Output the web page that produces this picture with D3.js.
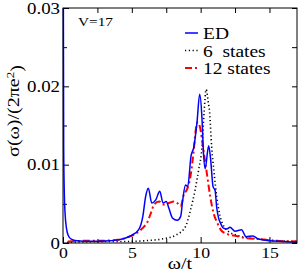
<!DOCTYPE html>
<html>
<head>
<meta charset="utf-8">
<script src="https://cdn.jsdelivr.net/npm/d3@7"></script>
<style>
  body { margin: 0; background: #fff; }
  text { font-family: "Liberation Serif", "Times New Roman", serif; fill: #000; }
</style>
</head>
<body>
<div id="chart"></div>
<script>
// exact diagonalisation spectrum (omega/t, sigma)
const edOmega = [0, 0.02, 0.05, 0.1, 0.15, 0.25, 0.4, 0.6, 1, 2, 3, 4, 4.5, 5, 5.5, 5.8, 6.0, 6.2, 6.45, 6.74, 7.03, 7.27, 7.5, 7.7, 7.95, 8.3, 8.55, 8.7, 8.9, 9.06, 9.3, 9.5, 9.74, 9.93, 10.1, 10.2, 10.33, 10.58, 10.72, 10.9, 11.05, 11.17, 11.3, 11.45, 11.65, 11.9, 12.13, 12.5, 12.97, 13.3, 13.8, 14.2, 15, 16, 17];
const edSigma = [0.06, 0.035, 0.012, 0.006, 0.0038, 0.0019, 0.0009, 0.0005, 0.0003, 0.00022, 0.00025, 0.0004, 0.0006, 0.001, 0.0017, 0.0034, 0.0059, 0.007, 0.0051, 0.0055, 0.0066, 0.0051, 0.0053, 0.0044, 0.0032, 0.0029, 0.0034, 0.0055, 0.0074, 0.0072, 0.0111, 0.0122, 0.0155, 0.019, 0.0158, 0.0117, 0.0095, 0.0124, 0.0108, 0.0072, 0.0067, 0.0045, 0.0032, 0.0025, 0.0019, 0.0018, 0.002, 0.0015, 0.0017, 0.0008, 0.0009, 0.0005, 0.0003, 0.0002, 0.0001];

// 6 states
const s6Omega = [0.3, 2, 4, 4.8, 6.0, 7.46, 8.2, 8.9, 9.26, 9.6, 9.86, 10.1, 10.25, 10.4, 10.55, 10.65, 10.8, 10.98, 11.17, 11.4, 11.7, 12.0, 12.6, 13.3, 14.3, 15.5, 17];
const s6Sigma = [0.0001, 0.00015, 0.0002, 0.0002, 0.0003, 0.0006, 0.001, 0.0021, 0.0042, 0.0068, 0.0094, 0.0123, 0.0167, 0.0196, 0.0180, 0.0167, 0.0123, 0.0089, 0.0059, 0.0035, 0.0021, 0.0015, 0.001, 0.0007, 0.0005, 0.0003, 0.0002];

// 12 states
const s12Omega = [0.35, 1, 2, 3, 4, 4.8, 5.3, 5.78, 6.14, 6.38, 6.62, 6.98, 7.34, 7.7, 8.06, 8.3, 8.55, 8.78, 9.0, 9.26, 9.5, 9.62, 9.78, 9.95, 10.2, 10.45, 10.7, 10.94, 11.2, 11.5, 12.0, 12.6, 13.3, 14.3, 15.25, 17];
const s12Sigma = [0.0002, 0.00025, 0.0003, 0.0003, 0.0004, 0.0008, 0.0012, 0.0019, 0.0027, 0.0038, 0.0049, 0.0053, 0.0049, 0.0051, 0.0053, 0.0051, 0.0047, 0.0062, 0.0068, 0.0085, 0.0119, 0.0141, 0.0154, 0.0148, 0.0119, 0.0089, 0.0059, 0.0038, 0.0026, 0.0016, 0.0011, 0.0009, 0.0006, 0.0005, 0.0003, 0.0002];

const xTicks = [0, 5, 10, 15];
const xMinor = [2.5, 7.5, 12.5];
const yTicks = [0, 0.01, 0.02, 0.03];
const yMinor = [0.005, 0.015, 0.025];

const legendNames = ["ED", "6  states", "12 states"];

const totalW = 300, totalH = 274;
const margin = { top: 8, right: 3, bottom: 31, left: 63 };
const width = totalW - margin.left - margin.right;
const height = totalH - margin.top - margin.bottom;
const sx = 1.18; // the original text is a little wide

const svg = d3.select("#chart")
  .append("svg")
  .attr("width", totalW)
  .attr("height", totalH)
  .append("g")
  .attr("transform", `translate(${margin.left}, ${margin.top})`);

const xScale = d3.scaleLinear().domain([0, 17]).range([0, width]);
const yScale = d3.scaleLinear().domain([0, 0.03]).range([height, 0]);

svg.append("clipPath").attr("id", "clip")
  .append("rect").attr("x", -1).attr("width", width + 1).attr("height", height);

// axes, ticks point inwards
function styleAxis(g) {
  g.select(".domain").remove();
  g.selectAll("line").attr("stroke", "#000");
}

svg.append("g")
  .attr("transform", `translate(0, ${height})`)
  .call(d3.axisBottom(xScale).tickValues(xTicks).tickSize(-6).tickPadding(4).tickFormat(d3.format("d")))
  .call(styleAxis)
  .selectAll("text")
  .style("font-size", "15px")
  .attr("transform", `scale(${sx},1)`);

svg.append("g")
  .attr("transform", `translate(0, ${height})`)
  .call(d3.axisBottom(xScale).tickValues(xMinor).tickSize(-4).tickFormat(""))
  .call(styleAxis);

svg.append("g")
  .call(d3.axisTop(xScale).tickValues(xTicks.concat(xMinor)).tickSize(-5).tickFormat(""))
  .call(styleAxis);

svg.append("g")
  .call(d3.axisLeft(yScale).tickValues(yTicks).tickSize(-6).tickPadding(3).tickFormat((d) => d === 0 ? "0" : d3.format(".2f")(d)))
  .call(styleAxis)
  .selectAll("text")
  .style("font-size", "16px")
  .attr("x", -3 / sx)
  .attr("transform", `scale(${sx},1)`);

svg.append("g")
  .call(d3.axisLeft(yScale).tickValues(yMinor).tickSize(-4).tickFormat(""))
  .call(styleAxis);

svg.append("g")
  .attr("transform", `translate(${width}, 0)`)
  .call(d3.axisRight(yScale).tickValues(yTicks.concat(yMinor)).tickSize(-5).tickFormat(""))
  .call(styleAxis);

// curves
const series = [
  { omega: s6Omega, sigma: s6Sigma, color: "#000", dash: "1.2,2.6", w: 1.6 },
  { omega: s12Omega, sigma: s12Sigma, color: "#ff0000", dash: "7,3,2,3", w: 2 },
  { omega: edOmega, sigma: edSigma, color: "#0000ff", dash: null, w: 1.5 }
];

const line = d3.line()
  .x((d) => xScale(d[0]))
  .y((d) => yScale(d[1]))
  .curve(d3.curveMonotoneX);

series.forEach((s) => {
  svg.append("path")
    .datum(s.omega.map((o, i) => [o, s.sigma[i]]))
    .attr("clip-path", "url(#clip)")
    .attr("fill", "none")
    .attr("stroke", s.color)
    .attr("stroke-width", s.w)
    .attr("stroke-dasharray", s.dash)
    .attr("d", line);
});

svg.append("rect")
  .attr("width", width)
  .attr("height", height)
  .attr("fill", "none")
  .attr("stroke", "#000")
  .attr("stroke-width", 1);

// legend
const legendStyles = [series[2], series[0], series[1]];
const legend = svg.append("g").attr("transform", `translate(${185 - margin.left}, ${33 - margin.top})`);
legendNames.forEach((name, i) => {
  const s = legendStyles[i];
  legend.append("line")
    .attr("x1", 0).attr("x2", 13)
    .attr("y1", i * 17.5).attr("y2", i * 17.5)
    .attr("stroke", s.color)
    .attr("stroke-width", s.w)
    .attr("stroke-dasharray", s.dash);
  legend.append("text")
    .attr("transform", `translate(18, ${i * 17.5 + 6}) scale(${sx},1)`)
    .style("font-size", "16.5px")
    .style("white-space", "pre")
    .attr("xml:space", "preserve")
    .text(name);
});

svg.append("text")
  .attr("transform", `translate(${78 - margin.left}, ${26 - margin.top}) scale(${sx},1)`)
  .style("font-size", "13px")
  .text("V=17");

// axis titles
svg.append("text")
  .attr("transform", `translate(${width / 2}, ${269 - margin.top}) scale(${sx},1)`)
  .style("text-anchor", "middle")
  .style("font-size", "17px")
  .text("ω/t");

const yTitle = svg.append("text")
  .attr("transform", `translate(${19 - margin.left}, ${111 - margin.top}) rotate(-90) scale(${sx},1)`)
  .style("text-anchor", "middle")
  .style("font-size", "17px");
yTitle.append("tspan").text("σ(ω)/(2πe");
yTitle.append("tspan").attr("dy", "-0.45em").style("font-size", "11px").text("2");
yTitle.append("tspan").attr("dy", "0.45em").text(")");
</script>
</body>
</html>
